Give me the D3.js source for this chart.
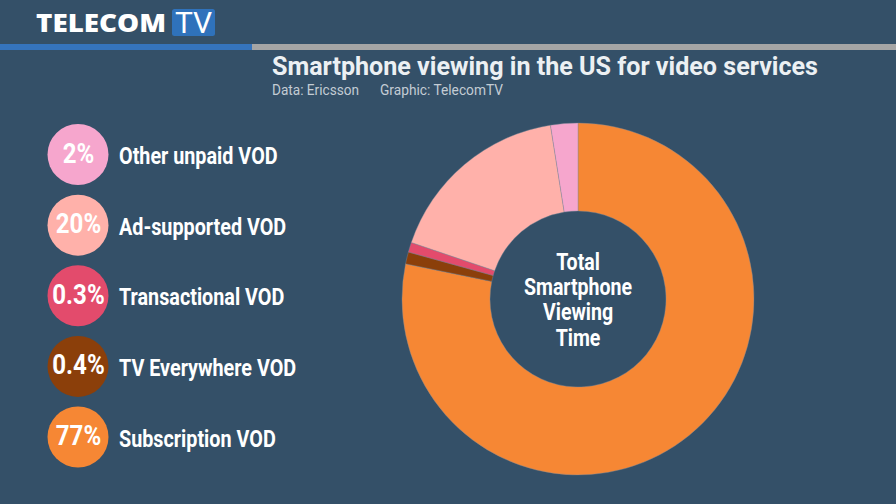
<!DOCTYPE html>
<html><head><meta charset="utf-8">
<script src="https://cdnjs.cloudflare.com/ajax/libs/d3/7.8.5/d3.min.js"></script>
<style>html,body{margin:0;padding:0;background:#345068}svg{display:block}text{font-family:Roboto,sans-serif}</style>
</head><body><div id="c"></div>
<script>
const categories=["Subscription VOD","TV Everywhere VOD","Transactional VOD","Ad-supported VOD","Other unpaid VOD"];
const sliceShares=[78.2,1.1,0.9,17.3,2.5];
const legendLabels=["77%","0.4%","0.3%","20%","2%"];
const colors=["#f68734","#8b3f0a","#e34b6c","#ffb1aa","#f6a6cd"];
const centerLines=["Total","Smartphone","Viewing","Time"];
const title="Smartphone viewing in the US for video services";
const subtitle=["Data: Ericsson","Graphic: TelecomTV"];

const W=896,H=504;
const svg=d3.select("#c").append("svg").attr("width",W).attr("height",H);
svg.append("rect").attr("width",W).attr("height",H).attr("fill","#345068");

// header
svg.append("rect").attr("x",0).attr("y",44).attr("width",252).attr("height",6).attr("fill","#3574bd");
svg.append("rect").attr("x",252).attr("y",44).attr("width",644).attr("height",6).attr("fill","#a5a5a5");
svg.append("text").attr("x",36).attr("y",32).attr("textLength",130).attr("lengthAdjust","spacingAndGlyphs")
  .attr("fill","#fff").style("font-family","Open Sans").style("font-weight",800).style("font-size","25.5px").text("TELECOM");
svg.append("rect").attr("x",172).attr("y",9).attr("width",43).attr("height",27).attr("rx",2.5).attr("fill","#2f72bb");
svg.append("text").attr("x",193.5).attr("y",33).attr("text-anchor","middle").attr("fill","#fff")
  .style("font-family","Roboto").style("font-weight",400).style("font-size","30px").text("TV");

svg.append("text").attr("x",272).attr("y",75).attr("textLength",546).attr("lengthAdjust","spacingAndGlyphs")
  .attr("fill","#ecf0f3").style("font-weight",700).style("font-size","25.5px").text(title);
svg.append("text").attr("x",272).attr("y",95).attr("textLength",87).attr("lengthAdjust","spacingAndGlyphs").attr("fill","#c3ccd4").style("font-size","14px").text(subtitle[0]);
svg.append("text").attr("x",380).attr("y",95).attr("textLength",123).attr("lengthAdjust","spacingAndGlyphs").attr("fill","#c3ccd4").style("font-size","14px").text(subtitle[1]);

// donut
const cx=578,cy=299,R=176,r=88;
const pie=d3.pie().sort(null).value(d=>d)(sliceShares);
const arc=d3.arc().innerRadius(r).outerRadius(R);
const g=svg.append("g").attr("transform",`translate(${cx},${cy})`);
g.selectAll("path").data(pie).join("path").attr("d",arc).attr("fill",(d,i)=>colors[i])
  .attr("stroke","#7d8a9a").attr("stroke-width",0.4);

function cond(sel,x,y,sx){return sel.attr("transform",`translate(${x},${y}) scale(${sx},1)`);}
const lineY=[269.5,294.5,319.5,345.5];
centerLines.forEach((t,i)=>{
  cond(svg.append("text"),cx,lineY[i],0.85).attr("text-anchor","middle").attr("fill","#fff")
   .style("font-weight",700).style("font-size","23px").text(t);
});

// legend (top to bottom is reversed category order)
const y=d3.scalePoint().domain(d3.range(5)).range([437,154.5]);
const row=svg.selectAll("g.row").data(categories).join("g").attr("class","row");
row.append("circle").attr("cx",78).attr("cy",(d,i)=>y(i)).attr("r",30.5).attr("fill",(d,i)=>colors[i]);
row.each(function(d,i){
  const s=d3.select(this);
  cond(s.append("text"),78.5,y(i)+8,0.86).attr("text-anchor","middle").attr("fill","#fff")
    .style("font-weight",700).style("font-size","28px").text(legendLabels[i]);
  cond(s.append("text"),119,y(i)+9.5,0.86).attr("fill","#fff")
    .style("font-weight",700).style("font-size","23px").text(d);
});
</script></body></html>
